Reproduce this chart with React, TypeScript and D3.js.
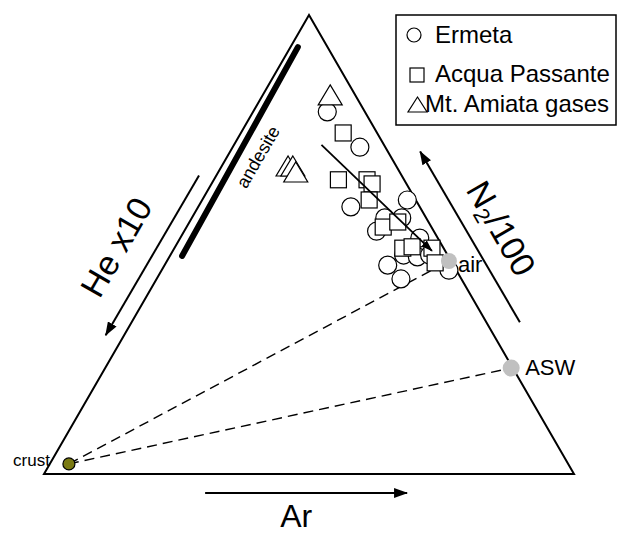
import React from 'react';
import * as d3 from 'd3';

const W = 617, H = 534;

// ternary values: [He x10, N2/100, Ar] as fractions
type T3 = [number, number, number];

const ermeta: T3[] = [
  [0.071, 0.789, 0.140],
  [0.048, 0.712, 0.240],
  [0.130, 0.582, 0.288],
  [0.016, 0.597, 0.387],
  [0.078, 0.558, 0.364],
  [0.046, 0.558, 0.396],
  [0.108, 0.529, 0.363],
  [0.034, 0.514, 0.452],
  [0.083, 0.477, 0.440],
  [0.059, 0.473, 0.468],
  [0.034, 0.477, 0.489],
  [0.124, 0.455, 0.421],
  [0.114, 0.425, 0.461],
  [0.014, 0.444, 0.542],
];

const acquaPassante: T3[] = [
  [0.064, 0.743, 0.193],
  [0.124, 0.641, 0.235],
  [0.070, 0.641, 0.289],
  [0.065, 0.632, 0.303],
  [0.088, 0.597, 0.315],
  [0.091, 0.538, 0.371],
  [0.058, 0.549, 0.393],
  [0.077, 0.492, 0.431],
  [0.058, 0.495, 0.447],
  [0.022, 0.492, 0.486],
  [0.032, 0.460, 0.508],
];

const amiataGases: T3[] = [
  [0.047, 0.826, 0.127],
  [0.204, 0.671, 0.125],
  [0.195, 0.671, 0.134],
  [0.196, 0.658, 0.146],
];

const trendLine: T3[] = [
  [0.118, 0.717, 0.165],
  [0.025, 0.486, 0.489],
];

const andesite: T3[] = [
  [0.056, 0.930, 0.014],
  [0.502, 0.475, 0.023],
];

const endMembers = [
  { name: 'air', v: [0.004, 0.464, 0.532] as T3 },
  { name: 'ASW', v: [0.003, 0.231, 0.766] as T3 },
  { name: 'crust', v: [0.942, 0.022, 0.036] as T3 },
];

const legendItems = ['Ermeta', 'Acqua Passante', 'Mt. Amiata gases'];

const FONT = "'Liberation Sans', Arial, sans-serif";

export default function App() {
  const xS = d3.scaleLinear().domain([0, 1]).range([44, 574]);
  const yS = d3.scaleLinear().domain([0, 1]).range([474, 15]);
  const proj = (v: T3): [number, number] => {
    const s = v[0] + v[1] + v[2];
    const n2 = v[1] / s, ar = v[2] / s;
    return [xS(ar + n2 / 2), yS(n2)];
  };
  const L = proj([1, 0, 0]), Tp = proj([0, 1, 0]), R = proj([0, 0, 1]);

  const edgePt = (A: number[], B: number[], t: number, off: number, nrm: number[]): [number, number] => [
    A[0] + (B[0] - A[0]) * t + nrm[0] * off,
    A[1] + (B[1] - A[1]) * t + nrm[1] * off,
  ];
  const nLeft = [-Math.sqrt(3) / 2, -0.5];
  const nRight = [Math.sqrt(3) / 2, -0.5];
  const nBottom = [0, 1];

  const line = d3.line<[number, number]>();
  const tri = `M${Tp[0]},${Tp[1]}L${L[0]},${L[1]}L${R[0]},${R[1]}Z`;

  const la1 = edgePt(Tp, L, 0.366, 15, nLeft);
  const la2 = edgePt(Tp, L, 0.715, 16, nLeft);
  const ra1 = edgePt(Tp, R, 0.701, 29, nRight);
  const ra2 = edgePt(Tp, R, 0.328, 28, nRight);
  const ba1 = edgePt(L, R, 0.304, 19, nBottom);
  const ba2 = edgePt(L, R, 0.685, 19, nBottom);
  const heLab = edgePt(Tp, L, 0.561, 51, nLeft);
  const n2Lab = edgePt(Tp, R, 0.53, 60, nRight);
  const arLab = edgePt(L, R, 0.476, 53, nBottom);
  const andLab = edgePt(Tp, L, 0.28, -27, nLeft);

  const air = proj(endMembers[0].v), asw = proj(endMembers[1].v), crust = proj(endMembers[2].v);
  const tl = trendLine.map(proj);
  const an = andesite.map(proj);

  const triPath = (cx: number, cy: number, w: number, h: number) =>
    `M${cx},${cy - h / 2}L${cx + w / 2},${cy + h / 2}L${cx - w / 2},${cy + h / 2}Z`;

  return (
    <svg width={W} height={H} style={{ position: 'absolute', left: 0, top: 0, background: '#fff' }} fontFamily={FONT}>
      <defs>
        <marker id="ah" viewBox="0 0 14 10" refX="13" refY="5" markerWidth="14" markerHeight="10" markerUnits="userSpaceOnUse" orient="auto">
          <path d="M0,0L14,5L0,10Z" fill="#000" />
        </marker>
        <marker id="ahs" viewBox="0 0 12 8" refX="11" refY="4" markerWidth="12" markerHeight="8" markerUnits="userSpaceOnUse" orient="auto">
          <path d="M0,0L12,4L0,8Z" fill="#000" />
        </marker>
      </defs>
      <rect width={W} height={H} fill="#fff" />
      <path d={tri} fill="none" stroke="#000" strokeWidth={2} strokeLinejoin="miter" />

      {/* dashed mixing lines */}
      <path d={line([crust, air]) as string} stroke="#000" strokeWidth={1.4} strokeDasharray="10,6" fill="none" />
      <path d={line([crust, asw]) as string} stroke="#000" strokeWidth={1.4} strokeDasharray="10,6" fill="none" />

      {/* andesite bar */}
      <path d={line(an as [number, number][]) as string} stroke="#000" strokeWidth={6} strokeLinecap="round" />
      <text x={andLab[0]} y={andLab[1]} fontSize={18} textAnchor="middle" dominantBaseline="central"
        transform={`rotate(-60 ${andLab[0]} ${andLab[1]})`}>andesite</text>

      {/* data */}
      {ermeta.map((v, i) => {
        const [x, y] = proj(v);
        return <circle key={'e' + i} cx={x} cy={y} r={9} fill="#fff" stroke="#000" strokeWidth={1.2} />;
      })}
      {acquaPassante.map((v, i) => {
        const [x, y] = proj(v);
        return <rect key={'a' + i} x={x - 8} y={y - 8} width={16} height={16} fill="#fff" stroke="#000" strokeWidth={1.2} />;
      })}
      {amiataGases.map((v, i) => {
        const [x, y] = proj(v);
        return <path key={'m' + i} d={triPath(x, y, 24, 20)} fill="#fff" stroke="#000" strokeWidth={1.2} />;
      })}

      {/* trend arrow */}
      <path d={line(tl as [number, number][]) as string} stroke="#000" strokeWidth={1.8} markerEnd="url(#ahs)" />

      {/* end members */}
      <circle cx={air[0]} cy={air[1]} r={8} fill="#c0c0c0" />
      <text x={air[0] + 9} y={air[1] + 11} fontSize={22}>air</text>
      <circle cx={asw[0]} cy={asw[1]} r={8.5} fill="#c0c0c0" />
      <text x={asw[0] + 14} y={asw[1] + 7} fontSize={22}>ASW</text>
      <circle cx={crust[0]} cy={crust[1]} r={6} fill="#7a7a12" stroke="#000" strokeWidth={1.2} />
      <text x={crust[0] - 19} y={crust[1] + 2} fontSize={17} textAnchor="end">crust</text>

      {/* axis arrows */}
      <path d={line([la1, la2]) as string} stroke="#000" strokeWidth={2} markerEnd="url(#ah)" />
      <path d={line([ra1, ra2]) as string} stroke="#000" strokeWidth={2} markerEnd="url(#ah)" />
      <path d={line([ba1, ba2]) as string} stroke="#000" strokeWidth={2} markerEnd="url(#ah)" />

      <text x={heLab[0]} y={heLab[1]} fontSize={34} textAnchor="middle" dominantBaseline="central"
        transform={`rotate(-60 ${heLab[0]} ${heLab[1]})`}>He x10</text>
      <text x={n2Lab[0]} y={n2Lab[1]} fontSize={34} textAnchor="middle" dominantBaseline="central"
        transform={`rotate(60 ${n2Lab[0]} ${n2Lab[1]})`}>
        N<tspan fontSize={22} dy={10}>2</tspan><tspan dy={-10}>/100</tspan>
      </text>
      <text x={arLab[0]} y={arLab[1]} fontSize={32} textAnchor="middle">Ar</text>

      {/* legend */}
      <rect x={396} y={15} width={220} height={110} fill="#fff" stroke="#000" strokeWidth={1.5} />
      <circle cx={414} cy={35} r={7} fill="#fff" stroke="#000" strokeWidth={1.2} />
      <text x={435} y={43} fontSize={24}>{legendItems[0]}</text>
      <rect x={410} y={68} width={14} height={14} fill="#fff" stroke="#000" strokeWidth={1.2} />
      <text x={435} y={82} fontSize={24}>{legendItems[1]}</text>
      <path d={triPath(417.5, 104.5, 19, 15)} fill="#fff" stroke="#000" strokeWidth={1.2} />
      <text x={425} y={112} fontSize={24}>{legendItems[2]}</text>
    </svg>
  );
}
